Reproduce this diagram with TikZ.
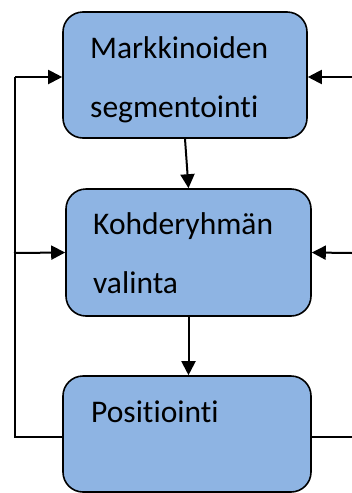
\documentclass[tikz,border=0pt]{standalone}
\usepackage{fontspec}
\setmainfont[Ligatures={NoCommon}]{Carlito}
\usetikzlibrary{arrows.meta}
\definecolor{boxblue}{HTML}{8EB4E3}
\tikzset{
  box/.style={draw=black, line width=1.6pt, fill=boxblue, rounded corners=20pt, inner sep=0pt},
  lbl/.style={anchor=base west, inner sep=0pt, font=\fontsize{31.5}{36}\selectfont},
  conn/.style={line width=2pt, -{Triangle[length=14pt,width=14pt]}},
  plain/.style={line width=2pt}
}
\begin{document}
\begin{tikzpicture}[x=1pt,y=-1pt]
\useasboundingbox (0,0) rectangle (351,493);
\node[box, minimum width=244pt, minimum height=126pt] (b1) at (185,75) {};
\node[box, minimum width=245pt, minimum height=127pt] (b2) at (188.5,252.5) {};
\node[box, minimum width=248pt, minimum height=116pt] (b3) at (187,434) {};
\node[lbl] (t1a) at (90,58) {Markkinoiden};
\node[lbl] (t1b) at (90,117) {segmentointi};
\node[lbl] (t2a) at (93,234) {Kohderyhmän};
\node[lbl] (t2b) at (93,293) {valinta};
\node[lbl] (t3) at (91,422) {Positiointi};
\coordinate (L1) at (15,77);
\coordinate (L2) at (14,253);
\coordinate (L3) at (15,437);
\coordinate (R1) at (352,77);
\coordinate (R2) at (352,253);
\coordinate (R3) at (352,437);
\draw[conn] (b1.south) -- (b2.north);
\draw[conn] (b2.south) -- (b2.south |- b3.north);
\draw[plain] ([yshift=-3pt]b3.west) -- (L3) -- (L1);
\draw[conn] (L1) -- ([yshift=-2pt]b1.west);
\draw[conn] (L2) -- (b2.west);
\draw[conn] (R1) -- ([yshift=-2pt]b1.east);
\draw[conn] (R2) -- (b2.east);
\draw[plain] ([yshift=-3pt]b3.east) -- (R3);
\end{tikzpicture}
\end{document}
